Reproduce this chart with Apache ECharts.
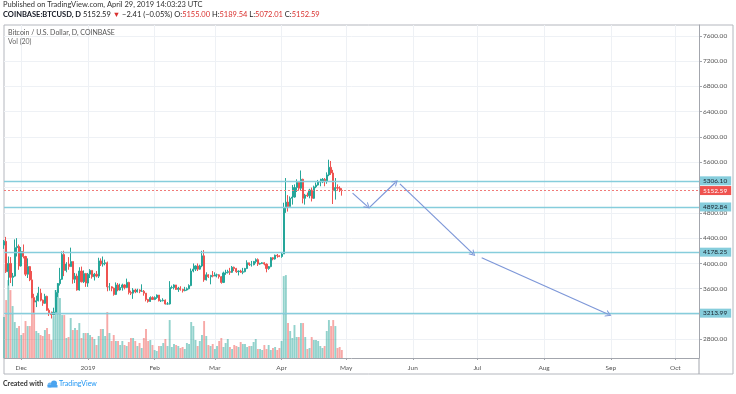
<!DOCTYPE html>
<html><head><meta charset="utf-8">
<script src="https://cdn.jsdelivr.net/npm/echarts@6/dist/echarts.min.js"></script>
<style>html,body{margin:0;padding:0;background:#fff}#c{width:736px;height:394px}</style>
</head><body><div id="c"></div>
<script>
// ---------- DATA ----------
const startDate = '2018-11-23';
const endDate = '2019-10-12';
const monthAbbr = ['Jan','Feb','Mar','Apr','May','Jun','Jul','Aug','Sep','Oct','Nov','Dec'];

const open = [
4290,4350,3870,4000,3780,3800,4250,4270,3960,4190,
4110,3830,3950,3740,3460,3390,3410,3530,3420,3370,
3480,3260,3210,3190,3230,3540,3680,3750,4140,3890,
3990,3950,4030,3750,3800,3580,3880,3710,3840,3690,
3830,3890,3790,3830,3800,4040,3990,4000,4010,3630,
3630,3610,3510,3660,3580,3620,3660,3620,3700,3540,
3530,3580,3550,3580,3560,3560,3530,3430,3400,3460,
3430,3460,3500,3410,3410,3420,3360,3360,3620,3620,
3660,3590,3610,3590,3570,3580,3600,3650,3880,3910,
3960,3910,3960,4120,3740,3820,3790,3810,3800,3820,
3820,3790,3700,3850,3860,3870,3860,3940,3920,3870,
3880,3860,3870,3920,4010,3980,3980,4030,4060,3990,
4000,4010,3990,3920,3950,4090,4070,4130,4120,4110,
4150,4880,4970,4900,5030,5050,5200,5280,5190,5330,
5030,5080,5070,5160,5030,5210,5240,5290,5290,5330,
5300,5400,5520,5430,5150,5200,5190,5155.00];
const close = [
4350,3870,4000,3780,3800,4250,4270,3960,4190,4110,
3830,3950,3740,3460,3390,3410,3530,3420,3370,3480,
3260,3210,3190,3230,3540,3680,3750,4140,3890,3990,
3950,4030,3750,3800,3580,3880,3710,3840,3690,3830,
3890,3790,3830,3800,4040,3990,4000,4010,3630,3630,
3610,3510,3660,3580,3620,3660,3620,3700,3540,3530,
3580,3550,3580,3560,3560,3530,3430,3400,3460,3430,
3460,3500,3410,3410,3420,3360,3360,3620,3620,3660,
3590,3610,3590,3570,3580,3600,3650,3880,3910,3960,
3910,3960,4120,3740,3820,3790,3810,3800,3820,3820,
3790,3700,3850,3860,3870,3860,3940,3920,3870,3880,
3860,3870,3920,4010,3980,3980,4030,4060,3990,4000,
4010,3990,3920,3950,4090,4070,4130,4120,4110,4150,
4880,4970,4900,5030,5050,5200,5280,5190,5330,5030,
5080,5070,5160,5030,5210,5240,5290,5290,5330,5300,
5400,5520,5430,5150,5200,5190,5160,5152.59];
const high = [
4370,4420,4110,4100,3850,4380,4400,4300,4260,4300,
4120,4080,3960,3880,3520,3490,3630,3600,3430,3520,
3490,3290,3240,3300,3580,3690,3930,4190,4200,4020,
4100,4250,4030,3850,3840,3940,3950,3890,3850,3850,
3910,3890,3850,3880,4090,4080,4110,4060,4030,3690,
3640,3620,3700,3690,3680,3680,3670,3760,3710,3570,
3610,3600,3600,3590,3670,3580,3530,3440,3480,3480,
3480,3510,3500,3430,3450,3430,3390,3720,3650,3670,
3660,3630,3640,3600,3630,3620,3670,3920,4000,3970,
4000,3980,4200,4210,3860,3830,3820,3880,3860,3840,
3830,3800,3870,3900,3900,3930,3960,3950,3930,3890,
3900,3930,3930,4050,4010,4040,4040,4080,4080,4010,
4020,4020,4000,3960,4100,4100,4140,4150,4130,4180,
4960,5350,5080,5060,5240,5250,5330,5280,5470,5340,
5100,5120,5180,5200,5230,5280,5320,5340,5350,5350,
5440,5640,5620,5480,5350,5250,5220,5189.54];
const low = [
4230,3850,3650,3690,3640,3790,4110,3900,3950,4080,
3800,3770,3720,3450,3220,3310,3400,3400,3330,3360,
3250,3170,3130,3180,3230,3470,3650,3740,3800,3860,
3900,3950,3680,3690,3570,3570,3700,3690,3630,3630,
3770,3760,3730,3780,3770,3960,3950,3970,3560,3570,
3560,3490,3500,3560,3570,3570,3590,3610,3510,3500,
3440,3530,3540,3530,3550,3490,3400,3380,3390,3430,
3420,3440,3400,3390,3400,3350,3350,3350,3600,3590,
3580,3550,3570,3540,3560,3570,3590,3640,3860,3880,
3880,3900,3940,3710,3730,3770,3670,3780,3800,3780,
3760,3680,3690,3820,3840,3820,3850,3880,3850,3810,
3850,3830,3860,3910,3960,3950,3970,4000,3960,3980,
3990,3970,3860,3900,3940,4050,4060,4090,4100,4090,
4150,4800,4820,4900,4930,5040,5130,5150,5160,4950,
4930,5050,5030,4980,5020,5190,5230,5220,5270,5220,
5260,5380,5400,4940,5010,5150,5130,5072.01];
// volume, thousands BTC
const volume = [
24.6,34.8,46.8,40.8,31.2,21.6,18,19.2,13.8,15,
22.2,19.2,19.2,37.2,36,16.2,15,13.8,13.2,16.8,
18,14.4,10.8,25.2,40.8,45,36,25.8,25.8,12,
12.6,24,16.8,18,16.8,21,12,15,15,15,
13.8,12.6,11.4,7.8,13.2,17.4,17.4,13.2,27.6,15,
10.2,13.8,10.2,10.2,7.8,10.2,7.8,7.2,9.6,12,
12,10.2,7.2,9,6,12,17.4,10.2,10.8,7.8,
4.8,4.2,7.2,7.2,9,11.4,7.2,22.8,6.6,8.4,
7.8,7.2,6,6.6,5.4,9,8.4,21.6,19.2,10.8,
7.2,10.2,13.8,22.2,13.2,7.8,7.2,8.4,5.4,7.2,
10.2,12,6.6,9,11.4,6.6,5.4,7.8,7.2,6.6,
9.6,8.4,8.4,6.6,7.2,7.2,9.6,11.4,5.4,5.4,
4.8,7.8,5.4,7.8,4.8,6,6.6,4.8,6,10.2,
49.2,49.8,21,16.2,12,19.8,12.6,12.6,21,21,
12.6,5.4,6,12.6,10.8,10.8,10.2,7.2,6,7.2,
16.2,22.8,19.2,22.8,19.2,6,6.6,4.8];

const priceTicks = [2800,3200,3600,4000,4400,4800,5200,5600,6000,6400,6800,7200,7600];
const priceLabels = [2800,3600,4000,4400,4800,5600,6000,6400,6800,7200,7600];
const levelValues = [5306.10, 4892.84, 4178.25, 3213.99];
const lastPrice = 5152.59;
const arrowsFrom = [['2019-05-04',5111],['2019-05-12',4890],['2019-05-26',5258],['2019-07-03',4089]];
const arrowsTo   = [['2019-05-11',4899],['2019-05-24',5284],['2019-06-29',4152],['2019-08-31',3193]];

// ---------- BUILD ----------
function dayList(a,b){const out=[];let t=Date.parse(a+'T00:00:00Z');const e=Date.parse(b+'T00:00:00Z');
  while(t<=e){out.push(new Date(t).toISOString().slice(0,10));t+=86400000;}return out;}
const days = dayList(startDate,endDate);
const isMonthStart = (i,v) => v.slice(8,10)==='01';

const UP='#26a69a', DOWN='#ef5350';
const UPV='rgba(38,166,154,0.5)', DOWNV='rgba(239,83,80,0.5)';
const LEVEL='#86cddc';
const FONT='Lato, "Liberation Sans", sans-serif';
const CHEVRON='path://M0,10 L5,0 L10,10 L8.4,10 L5,3.2 L1.6,10 Z';

const candles = open.map((o,i)=>[o, close[i], low[i], high[i]]);
const vols = volume.map((v,i)=>({value:v, itemStyle:{color: close[i]>=open[i]?UPV:DOWNV}}));

const markData = [];
levelValues.forEach(v=>markData.push({yAxis:v,
  lineStyle:{color:LEVEL,width:1.3,type:'solid',opacity:1},
  label:{show:true,position:'end',distance:1,formatter:v.toFixed(2),backgroundColor:LEVEL,color:'#17202a',
         padding:[1,4,1,3],fontSize:6.5,fontFamily:FONT}}));
markData.push({yAxis:lastPrice,
  lineStyle:{color:'#f07a78',width:1,type:[2,2],opacity:1},
  label:{show:true,position:'end',distance:1,formatter:lastPrice.toFixed(2),backgroundColor:DOWN,color:'#fff',
         padding:[1,4,1,3],fontSize:6.5,fontFamily:FONT}});
arrowsFrom.forEach((f,i)=>markData.push([
  {coord:f, symbol:'none'},
  {coord:arrowsTo[i], symbol:CHEVRON, symbolSize:[7,6],
   itemStyle:{color:'#7d97d8'},
   lineStyle:{color:'#7d97d8',width:1.2,type:'solid',opacity:1}, label:{show:false}}
]));

const chart = echarts.init(document.getElementById('c'), null, {renderer:'canvas'});
chart.setOption({
  animation:false,
  backgroundColor:'#fff',
  textStyle:{fontFamily:FONT},
  grid:{left:4,right:37,top:25,bottom:36,containLabel:false},
  xAxis:{type:'category',data:days,boundaryGap:false,
    axisLine:{show:true,lineStyle:{color:'#a3a6ad'}},
    axisTick:{show:true,interval:isMonthStart,length:2,lineStyle:{color:'#a3a6ad'}},
    axisLabel:{interval:isMonthStart,fontSize:6.5,color:'#555',margin:6,fontFamily:FONT,
      formatter:v=>v.slice(5,7)==='01'?v.slice(0,4):monthAbbr[+v.slice(5,7)-1]},
    splitLine:{show:true,interval:isMonthStart,lineStyle:{color:'#eef1f5',width:1}}},
  yAxis:[
    {type:'value',position:'right',min:2505,max:7770,scale:true,
     axisLine:{show:true,lineStyle:{color:'#a3a6ad'}},
     axisTick:{show:true,length:3,customValues:priceTicks,lineStyle:{color:'#a3a6ad'}},
     axisLabel:{customValues:priceLabels,fontSize:6.5,color:'#555',margin:4,fontFamily:FONT,
       formatter:v=>v.toFixed(2)},
     splitLine:{show:true,lineStyle:{color:'#eef1f5',width:1}}},
    {type:'value',min:0,max:200,show:false,splitLine:{show:false}}
  ],
  series:[
    {type:'bar',name:'Vol',xAxisIndex:0,yAxisIndex:1,data:vols,barWidth:'88%',z:1,silent:true},
    {type:'candlestick',name:'BTCUSD',xAxisIndex:0,yAxisIndex:0,data:candles,barWidth:1.6,z:3,
     itemStyle:{color:UP,color0:DOWN,borderColor:UP,borderColor0:DOWN,borderWidth:1},
     markLine:{silent:true,symbol:'none',animation:false,label:{show:false},z:5,
       lineStyle:{color:LEVEL,type:'solid',width:1,opacity:1},
       emphasis:{disabled:true},
       data:markData}}
  ],
  graphic:[
    {type:'text',left:3,top:1,style:{text:'Published on TradingView.com, April 29, 2019 14:03:23 UTC',
      fontSize:7.5,fill:'#333',fontFamily:FONT}},
    {type:'text',left:3,top:11,style:{
      text:'{b|COINBASE:BTCUSD, D} {n|5152.59} {r|▼} {n|−2.41 (−0.05%)} {n|O:}{r|5155.00} {n|H:}{r|5189.54} {n|L:}{r|5072.01} {n|C:}{r|5152.59}',
      fontFamily:FONT,fontSize:7.5,
      rich:{b:{fontWeight:'bold',fill:'#131722',fontSize:7.5,fontFamily:FONT},
            n:{fill:'#222',fontSize:7.5,fontFamily:FONT},
            r:{fill:'#d9302e',fontSize:7.5,fontFamily:FONT}}}},
    {type:'text',left:8,top:29,z:10,style:{text:'Bitcoin / U.S. Dollar, D, COINBASE',fontSize:7,fill:'#555',fontFamily:FONT}},
    {type:'text',left:8,top:38,z:10,style:{text:'Vol (20)',fontSize:7,fill:'#666',fontFamily:FONT}},
    // frame
    {type:'rect',z:-1,silent:true,shape:{x:4,y:25,width:729,height:349},style:{fill:'none',stroke:'#b4b7be',lineWidth:1}},
    {type:'line',silent:true,shape:{x1:699,y1:358,x2:699,y2:374},style:{stroke:'#a3a6ad',lineWidth:1}},
    // footer
    {type:'text',left:3,top:380,style:{text:'Created with',fontSize:7,fill:'#333',fontWeight:'bold',fontFamily:FONT}},
    {type:'circle',silent:true,shape:{cx:50,cy:385,r:2.5},style:{fill:'#6fb6f0'}},
    {type:'circle',silent:true,shape:{cx:54,cy:383.5,r:3},style:{fill:'#4aa3ef'}},
    {type:'rect',silent:true,shape:{x:47.5,y:385,width:10,height:2.5},style:{fill:'#4aa3ef'}},
    {type:'text',left:59,top:380,style:{text:'TradingView',fontSize:7,fill:'#2196f3',fontFamily:FONT}}
  ]
});
</script>
</body></html>
